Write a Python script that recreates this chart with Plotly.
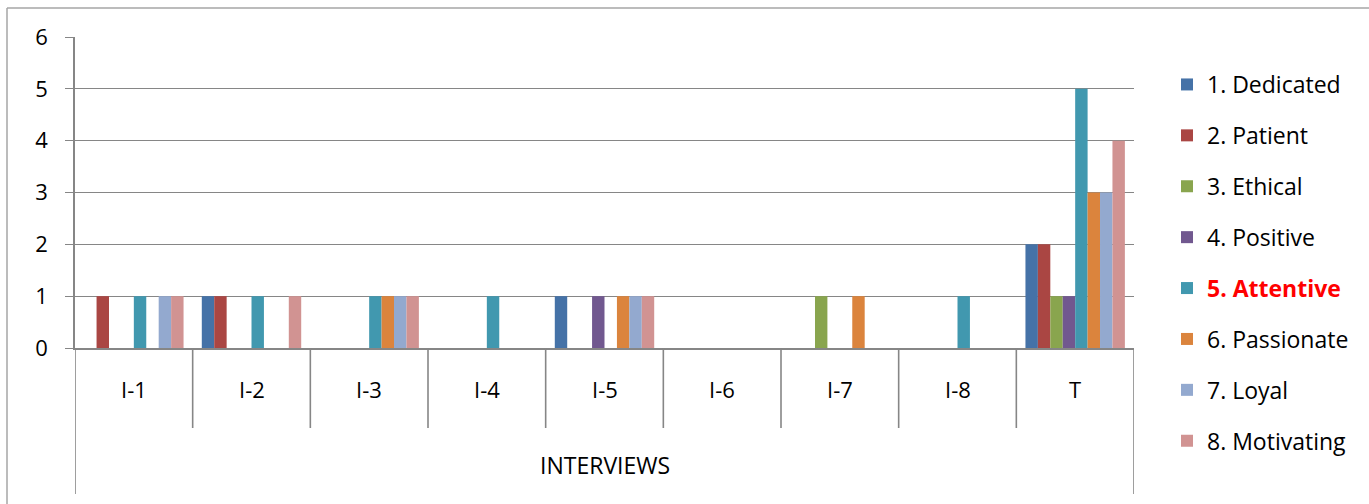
import plotly.graph_objects as go

categories = ["I-1", "I-2", "I-3", "I-4", "I-5", "I-6", "I-7", "I-8", "T"]
series_names = ["1. Dedicated", "2. Patient", "3. Ethical", "4. Positive",
                "5. Attentive", "6. Passionate", "7. Loyal", "8. Motivating"]
dedicated  = [0, 1, 0, 0, 1, 0, 0, 0, 2]
patient    = [1, 1, 0, 0, 0, 0, 0, 0, 2]
ethical    = [0, 0, 0, 0, 0, 0, 1, 0, 1]
positive   = [0, 0, 0, 0, 1, 0, 0, 0, 1]
attentive  = [1, 1, 1, 1, 0, 0, 0, 1, 5]
passionate = [0, 0, 1, 0, 1, 0, 1, 0, 3]
loyal      = [1, 0, 1, 0, 1, 0, 0, 0, 3]
motivating = [1, 1, 1, 0, 1, 0, 0, 0, 4]
y_ticks = [0, 1, 2, 3, 4, 5, 6]
axis_title = "INTERVIEWS"

values = [dedicated, patient, ethical, positive, attentive, passionate, loyal, motivating]
colors = ["#4572A7", "#AA4643", "#89A54E", "#71588F", "#4198AF", "#DB843D", "#93A9CF", "#D19392"]

FONT = "Open Sans"
GRID = "#868686"

fig = go.Figure()
for i, (name, vals, col) in enumerate(zip(series_names, values, colors)):
    label = name
    if name.startswith("5."):
        label = "<b><span style='color:#FF0000'>" + name + "</span></b>"
    fig.add_trace(go.Bar(x=list(range(len(categories))), y=vals, name=label,
                         marker=dict(color=col, line=dict(width=0)),
                         legendgroup="g%d" % i))

W, H = 1369, 504
L, R, T, B = 75, 1134, 37, 348
pw, ph = R - L, B - T

def px_x(px):
    return (px - L) / pw

def px_y(py):
    return (B - py) / ph

shapes = []
# category separators
for k in range(len(categories) + 1):
    xv = k - 0.5
    if k == 0 or k == len(categories):
        y1 = px_y(494)
    else:
        y1 = px_y(428)
    shapes.append(dict(type="line", xref="x", yref="paper", x0=xv, x1=xv,
                       y0=0, y1=y1, line=dict(color=GRID, width=1.6)))
# outer border (top & left)
shapes.append(dict(type="line", xref="paper", yref="paper", x0=px_x(7), x1=px_x(1369),
                   y0=px_y(8), y1=px_y(8), line=dict(color="#A6A6A6", width=1.5)))
shapes.append(dict(type="line", xref="paper", yref="paper", x0=px_x(7), x1=px_x(7),
                   y0=px_y(8), y1=px_y(504), line=dict(color="#A6A6A6", width=1.5)))

annotations = []
for i, c in enumerate(categories):
    annotations.append(dict(x=i, y=px_y(389), xref="x", yref="paper", text=c,
                            showarrow=False, xanchor="center", yanchor="middle",
                            font=dict(family=FONT, size=22, color="#000")))
annotations.append(dict(x=0.5, y=px_y(465), xref="paper", yref="paper", text=axis_title,
                        showarrow=False, xanchor="center", yanchor="middle",
                        font=dict(family=FONT, size=23, color="#000")))

fig.update_layout(
    width=W, height=H,
    margin=dict(l=L, r=W - R, t=T, b=H - B),
    paper_bgcolor="white", plot_bgcolor="white",
    barmode="group", bargap=0.155, bargroupgap=0,
    font=dict(family=FONT, size=20, color="#000"),
    xaxis=dict(range=[-0.5, len(categories) - 0.5], showticklabels=False, showgrid=False,
               zeroline=False, showline=True, linecolor=GRID, linewidth=2,
               ticks="", fixedrange=True),
    yaxis=dict(range=[0, 6], tickvals=y_ticks, showgrid=True, gridcolor=GRID, gridwidth=1.4,
               zeroline=False, showline=True, linecolor=GRID, linewidth=1.6,
               ticks="outside", ticklen=8, tickcolor=GRID, tickwidth=1.4,
               ticklabelstandoff=13, tickfont=dict(family=FONT, size=22, color="#000")),
    legend=dict(x=px_x(1167), y=px_y(63), xanchor="left", yanchor="top",
                traceorder="grouped", tracegroupgap=18, maxheight=480,
                font=dict(family=FONT, size=23, color="#000"),
                bgcolor="rgba(0,0,0,0)"),
    shapes=shapes, annotations=annotations,
    showlegend=True,
)

fig.write_html("out.html")
